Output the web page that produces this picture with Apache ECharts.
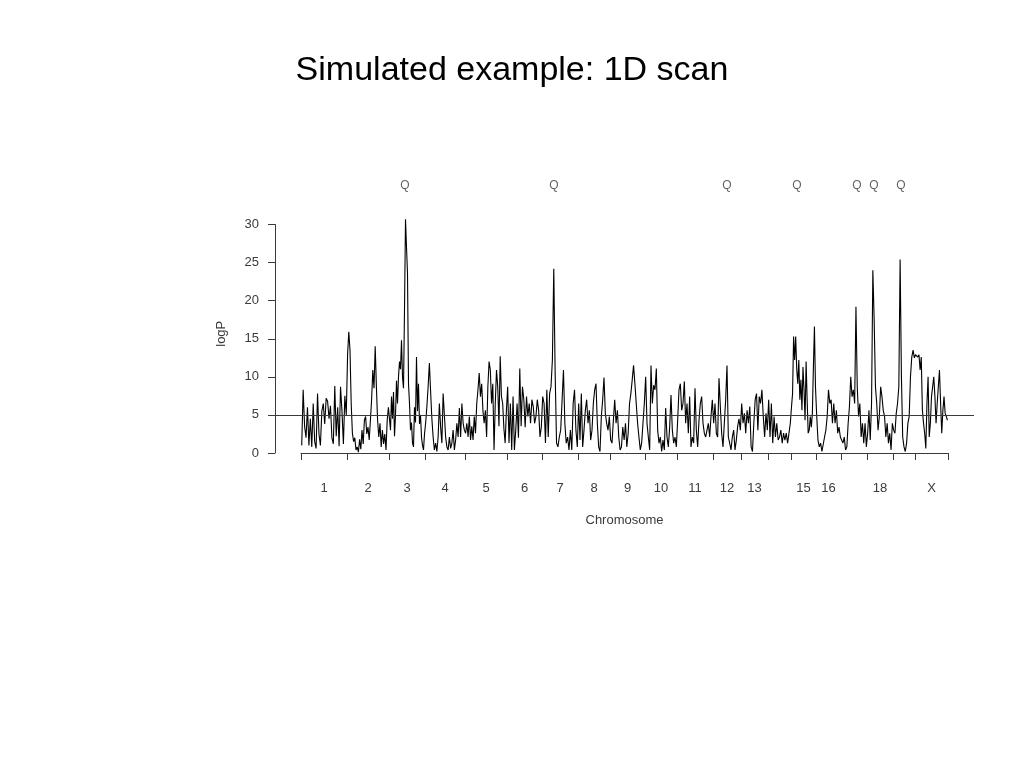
<!DOCTYPE html>
<html>
<head>
<meta charset="utf-8">
<script src="https://cdn.jsdelivr.net/npm/echarts@6/dist/echarts.min.js"></script>
<style>
html,body{margin:0;padding:0;background:#fff;}
#chart{width:1024px;height:768px;}
</style>
</head>
<body>
<div id="chart"></div>
<script>
// ---- data ----
const chromNames = ['1','2','3','4','5','6','7','8','9','10','11','12','13','14','15','16','17','18','19','X'];
const chromSpan = [46, 42, 36, 40, 42, 35, 36, 32, 35, 32, 36, 28, 27, 23, 25, 25, 26, 26, 22, 33];
const shownChromLabels = ['1','2','3','4','5','6','7','8','9','10','11','12','13','15','16','18','X'];

const lod1 = [1.0, 8.3, 3.5, 2.0, 6.0, 1.0, 4.5, 0.8, 6.5, 1.5, 0.6, 7.8, 2.5, 1.0, 5.5, 6.5, 3.8, 7.2, 6.8, 4.5, 6.2, 2.0, 1.2, 8.8, 2.2, 6.0, 0.9, 8.7, 5.5, 1.2, 7.5, 5.0];
const lod2 = [13.0, 15.9, 13.5, 6.5, 2.6, 1.5, 2.0, 0.4, 0.8, 0.1, 1.8, 0.5, 3.0, 1.2, 4.3, 4.8, 2.5, 3.4, 1.7, 4.3, 7.0, 10.9, 8.5, 14.0, 8.7, 4.3, 2.1, 3.9, 0.8, 3.0, 1.2, 2.5, 0.4, 4.3, 6.0];
const lod3 = [6.0, 3.0, 7.4, 4.5, 8.0, 2.2, 5.0, 9.5, 6.5, 10.0, 12.0, 11.0, 14.8, 10.0, 8.5, 18.8, 30.7, 27.0, 23.6, 9.1, 6.5, 3.0, 4.0, 1.3, 0.8, 6.0, 4.0, 12.6, 5.5, 9.1, 3.8, 5.0, 2.1, 1.0, 0.4, 2.5];
const lod4 = [3.9, 6.1, 8.7, 11.8, 8.0, 4.5, 2.1, 0.4, 1.3, 0.2, 2.1, 6.5, 3.4, 1.3, 7.8, 5.0, 2.1, 0.8, 0.4, 2.1, 0.6, 1.3, 3.0, 0.4, 1.7, 3.9, 2.1, 5.9, 2.1, 6.5, 3.9, 3.0];
const lod5 = [2.6, 3.9, 2.1, 4.8, 1.7, 3.5, 1.7, 4.8, 2.6, 6.5, 8.3, 10.5, 7.4, 9.1, 5.6, 3.9, 5.6, 2.1, 8.7, 12.0, 10.9, 6.5, 9.1, 0.4, 6.5, 10.9, 8.7, 3.5, 12.7, 7.4, 6.5, 3.2, 1.3, 5.5];
const lod6 = [8.7, 1.3, 6.5, 0.4, 7.4, 0.4, 3.0, 6.5, 2.0, 11.1, 3.5, 8.7, 7.0, 3.4, 7.4, 4.8, 6.5, 3.9, 7.0, 6.1, 3.9, 4.8, 7.0, 5.6, 2.1, 3.4];
const lod7 = [7.4, 6.5, 1.3, 8.3, 2.1, 7.8, 8.7, 12.2, 24.2, 10.5, 1.3, 0.8, 2.1, 3.0, 6.9, 10.9, 3.9, 1.3, 2.1, 0.4, 3.0, 0.4, 6.5, 8.3, 3.0, 0.8];
const lod8 = [6.5, 1.7, 7.8, 0.8, 3.0, 5.6, 7.0, 3.9, 5.6, 1.7, 3.0, 6.5, 8.3, 9.1, 3.9, 0.8, 0.2, 4.8, 7.0, 9.9, 5.2, 3.9, 3.0, 4.8];
const lod9 = [1.7, 1.3, 4.3, 7.0, 3.9, 5.6, 2.1, 0.4, 0.8, 3.4, 1.7, 3.9, 0.8, 2.6, 6.5, 7.8, 9.6, 11.5, 9.1, 6.5, 3.9, 2.1, 0.4, 1.3, 3.9, 6.5];
const lod10 = [10.0, 3.9, 2.1, 0.4, 11.5, 6.5, 8.9, 8.3, 11.1, 3.0, 1.3, 2.1, 0.2, 1.7, 0.4, 5.9, 2.1, 0.8, 3.4, 7.6, 3.0, 1.3, 2.1, 0.8];
const lod11 = [4.3, 8.3, 9.1, 5.6, 6.5, 9.4, 3.9, 6.5, 2.6, 7.4, 0.8, 2.1, 1.3, 8.5, 3.0, 0.8, 4.3, 6.5, 7.4, 3.9, 2.6, 2.1, 3.0, 3.9, 2.1, 4.8, 7.0];
const lod12 = [3.9, 6.5, 2.6, 2.1, 9.8, 6.1, 2.6, 0.8, 3.9, 7.0, 11.5, 2.1, 1.3, 0.4, 2.1, 3.0, 0.4, 1.7, 3.5, 4.5, 3.0];
const lod13 = [6.5, 3.9, 5.2, 2.6, 5.6, 3.9, 6.1, 0.8, 0.2, 3.9, 7.0, 7.8, 3.0, 7.4, 6.5, 8.3, 4.8, 2.1, 5.2, 3.0];
const lod14 = [7.0, 2.1, 6.5, 1.3, 4.8, 2.1, 3.9, 1.7, 2.1, 3.0, 1.3, 2.6, 1.7, 2.6, 1.3, 2.6, 3.9];
const lod15 = [6.1, 7.8, 15.3, 12.2, 15.3, 11.0, 9.1, 12.2, 7.0, 9.6, 5.6, 11.3, 8.3, 4.3, 12.0, 7.0, 2.6, 3.0, 4.8, 3.4, 5.2, 11.3, 16.6, 8.7];
const lod16 = [5.0, 1.7, 0.8, 1.3, 0.2, 0.4, 2.1, 3.0, 4.8, 8.3, 6.5, 7.0, 3.9, 6.5, 3.9, 5.6, 2.6, 3.4, 2.1];
const lod17 = [2.1, 1.3, 2.1, 0.4, 0.8, 3.9, 6.1, 10.0, 7.4, 8.3, 6.5, 19.2, 8.7, 4.8, 6.5, 2.1, 3.9, 1.3, 3.9, 0.8];
const lod18 = [2.6, 5.6, 1.7, 6.5, 24.0, 17.5, 8.7, 6.5, 3.0, 4.8, 8.7, 7.4, 5.6, 4.8, 2.1, 3.9, 1.3, 2.6, 0.4, 3.9];
const lod19 = [3.0, 2.6, 5.2, 6.5, 8.7, 25.4, 10.0, 2.1, 0.8, 0.2, 1.3, 3.9, 4.8, 10.0, 12.6, 13.5, 12.5];
const lodX = [12.9, 12.9, 12.6, 12.9, 10.9, 12.6, 5.6, 3.9, 2.6, 0.6, 6.5, 10.0, 2.1, 3.9, 7.4, 8.7, 10.0, 7.4, 3.9, 6.5, 8.7, 10.9, 6.5, 2.6, 5.6, 7.4, 5.2, 4.8, 4.3];
const lodByChrom = [lod1, lod2, lod3, lod4, lod5, lod6, lod7, lod8, lod9, lod10, lod11, lod12, lod13, lod14, lod15, lod16, lod17, lod18, lod19, lodX];

const qtlChrom = ['3', '7', '12', '15', '17', '18', '19'];
const qtlPos = [16, 12, 14, 6, 16, 7, 8];
const threshold = 5;

// ---- derived ----
const chromStart = [];
let acc = 0;
chromSpan.forEach(s => { chromStart.push(acc); acc += s; });
const genomeLen = acc;
const boundaries = chromStart.concat([genomeLen]);
const midpoints = chromNames.map((n, i) => chromStart[i] + chromSpan[i] / 2);
const labelValues = [];
const labelMap = {};
chromNames.forEach((n, i) => {
  if (shownChromLabels.indexOf(n) >= 0) { labelValues.push(midpoints[i]); labelMap[midpoints[i].toFixed(3)] = n; }
});
const scanData = [];
lodByChrom.forEach((arr, i) => {
  const n = arr.length;
  arr.forEach((v, j) => scanData.push([chromStart[i] + (j + 0.5) * chromSpan[i] / n, v]));
});
const qLabelLevel = 35.1;
const qtlData = qtlChrom.map((c, k) => [chromStart[chromNames.indexOf(c)] + qtlPos[k], qLabelLevel]);

const axisColor = '#3a3a3a';
const fontFam = 'Liberation Sans, Arial, Helvetica, sans-serif';

const chart = echarts.init(document.getElementById('chart'), null, {renderer: 'canvas'});
chart.setOption({
  animation: false,
  backgroundColor: '#fff',
  title: {
    text: 'Simulated example: 1D scan',
    left: 'center',
    top: 49,
    textStyle: {fontFamily: fontFam, fontSize: 34, fontWeight: 'normal', color: '#000'}
  },
  grid: [
    {left: 275, right: 50, top: 224.5, bottom: 315, containLabel: false},
    {left: 301, right: 76, top: 224.5, bottom: 315, containLabel: false}
  ],
  xAxis: [
    {gridIndex: 0, type: 'value', min: 0, max: 1, show: false},
    {
      gridIndex: 1, type: 'value', min: 0, max: genomeLen, offset: 10,
      name: 'Chromosome', nameLocation: 'middle', nameGap: 51,
      nameTextStyle: {fontFamily: fontFam, fontSize: 13, color: axisColor},
      axisLine: {show: true, lineStyle: {color: axisColor, width: 1}},
      axisTick: {show: true, length: 7, customValues: boundaries, lineStyle: {color: axisColor, width: 1}},
      axisLabel: {
        show: true, margin: 19, customValues: labelValues,
        fontFamily: fontFam, fontSize: 13, color: axisColor,
        formatter: v => labelMap[Number(v).toFixed(3)] || ''
      },
      splitLine: {show: false}
    }
  ],
  yAxis: [
    {
      gridIndex: 0, type: 'value', min: 0, max: 30, interval: 5,
      name: 'logP', nameLocation: 'middle', nameGap: 47, nameRotate: 90,
      nameTextStyle: {fontFamily: fontFam, fontSize: 13, color: axisColor, padding: [0, 0, 0, 10]},
      axisLine: {show: true, lineStyle: {color: axisColor, width: 1}},
      axisTick: {show: true, length: 7, lineStyle: {color: axisColor, width: 1}},
      axisLabel: {margin: 16, fontFamily: fontFam, fontSize: 13, color: axisColor},
      splitLine: {show: false}
    },
    {gridIndex: 1, type: 'value', min: 0, max: 30, show: false}
  ],
  series: [
    {
      type: 'line', xAxisIndex: 0, yAxisIndex: 0, data: [], silent: true,
      markLine: {
        silent: true, symbol: ['none', 'none'], animation: false,
        label: {show: false},
        lineStyle: {color: axisColor, width: 1, type: 'solid'},
        data: [{yAxis: threshold}]
      }
    },
    {
      type: 'line', xAxisIndex: 1, yAxisIndex: 1, data: scanData,
      showSymbol: false, symbol: 'none', clip: false, sampling: null,
      lineStyle: {color: '#000', width: 1.1}
    },
    {
      type: 'scatter', xAxisIndex: 1, yAxisIndex: 1, data: qtlData,
      symbolSize: 1, itemStyle: {color: 'rgba(0,0,0,0)'}, clip: false,
      label: {show: true, position: 'inside', formatter: 'Q', fontFamily: fontFam, fontSize: 12, color: '#3a3a3a'}
    }
  ]
});
</script>
</body>
</html>
